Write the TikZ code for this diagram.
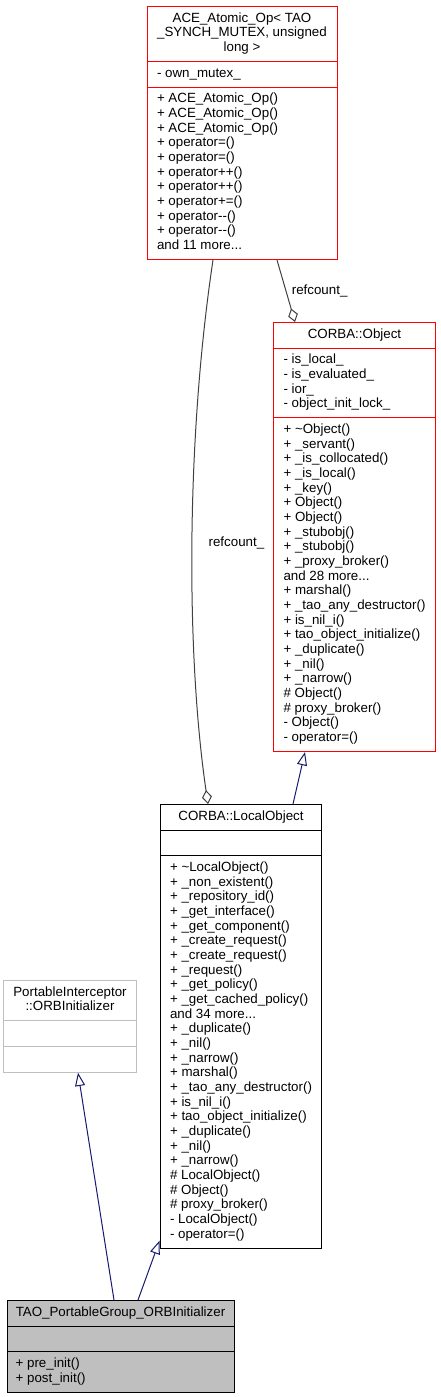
\documentclass[tikz,border=0pt]{standalone}
\usepackage{fontspec}
\setmainfont{Liberation Sans}
\usetikzlibrary{positioning,arrows.meta,calc,shapes.multipart}
\definecolor{edgeblue}{HTML}{191970}
\definecolor{edgegray}{HTML}{404040}
\definecolor{boxgray}{HTML}{BFBFBF}
\newcommand{\mtitle}[1]{\begin{tabular}{@{}c@{}}#1\end{tabular}}
\newcommand{\mlist}[1]{\begin{tabular}{@{}l@{}}#1\end{tabular}}
\tikzset{
  classbox/.style={rectangle split,rectangle split parts=3,draw,
    line width=0.75pt,inner xsep=7.5pt,inner ysep=3.75pt,anchor=north,
    rectangle split part align={center,left,left},
    font=\fontsize{10}{11}\selectfont},
  redbox/.style={classbox,draw=red},
  greybox/.style={classbox,draw=boxgray},
  mainbox/.style={classbox,fill=boxgray,inner xsep=6.5pt},
  inherit/.style={-{Triangle[open,length=10pt,width=7.5pt]},draw=edgeblue,
    line width=0.75pt},
  aggr/.style={-{Diamond[open,length=10.5pt,width=7.5pt]},draw=edgegray,
    line width=0.75pt},
  aggrlbl/.style={font=\fontsize{10}{11}\selectfont,inner sep=1pt},
}
\begin{document}
\begin{tikzpicture}[x=0.75pt,y=-0.75pt]
  \useasboundingbox (0,0) rectangle (440,1397);
  \node[redbox,minimum width=142.5pt] (ace) at (242,6)
    {\mtitle{ACE\_Atomic\_Op< TAO\\\_SYNCH\_MUTEX, unsigned\\long >}
     \nodepart{second}\mlist{- own\_mutex\_}
     \nodepart{third}\mlist{+ ACE\_Atomic\_Op()\\+ ACE\_Atomic\_Op()\\
       + ACE\_Atomic\_Op()\\+ operator=()\\+ operator=()\\+ operator++()\\
       + operator++()\\+ operator+=()\\+ operator-{}-()\\+ operator-{}-()\\
       and 11 more...}};
  \node[redbox,minimum width=119.25pt] (obj) at (354.5,322)
    {\mtitle{CORBA::Object}
     \nodepart{second}\mlist{- is\_local\_\\- is\_evaluated\_\\- ior\_\\
       - object\_init\_lock\_}
     \nodepart{third}\mlist{+ \textasciitilde Object()\\+ \_servant()\\
       + \_is\_collocated()\\+ \_is\_local()\\+ \_key()\\+ Object()\\
       + Object()\\+ \_stubobj()\\+ \_stubobj()\\+ \_proxy\_broker()\\
       and 28 more...\\+ marshal()\\+ \_tao\_any\_destructor()\\
       + is\_nil\_i()\\+ tao\_object\_initialize()\\+ \_duplicate()\\
       + \_nil()\\+ \_narrow()\\\# Object()\\\# proxy\_broker()\\
       - Object()\\- operator=()}};
  \node[classbox,minimum width=120pt] (lo) at (241,804)
    {\mtitle{CORBA::LocalObject}
     \nodepart{second}\strut
     \nodepart{third}\mlist{+ \textasciitilde LocalObject()\\
       + \_non\_existent()\\+ \_repository\_id()\\+ \_get\_interface()\\
       + \_get\_component()\\+ \_create\_request()\\+ \_create\_request()\\
       + \_request()\\+ \_get\_policy()\\+ \_get\_cached\_policy()\\
       and 34 more...\\+ \_duplicate()\\+ \_nil()\\+ \_narrow()\\
       + marshal()\\+ \_tao\_any\_destructor()\\+ is\_nil\_i()\\
       + tao\_object\_initialize()\\+ \_duplicate()\\+ \_nil()\\
       + \_narrow()\\\# LocalObject()\\\# Object()\\\# proxy\_broker()\\
       - LocalObject()\\- operator=()}};
  \node[greybox,minimum width=99pt] (orb) at (70,980)
    {\mtitle{PortableInterceptor\\::ORBInitializer}
     \nodepart{second}\strut
     \nodepart{third}\strut};
  \node[mainbox,minimum width=170.25pt] (tao) at (120.5,1300)
    {\mtitle{TAO\_PortableGroup\_ORBInitializer}
     \nodepart{second}\strut
     \nodepart{third}\mlist{+ pre\_init()\\+ post\_init()}};
  % usage edges
  \draw[aggr] ($(ace.south)+(35,0)$) -- ($(obj.north)+(-59.5,0)$)
    node[aggrlbl,pos=0.5,right=3pt] {refcount\_};
  \draw[aggr] ($(ace.south)+(-29,0)$) .. controls +(-27,180) and +(-22,-150)
    .. ($(lo.north)+(-33,0)$) node[aggrlbl,pos=0.5,right=11pt] {refcount\_};
  % inheritance edges
  \draw[inherit] ($(lo.north)+(52,0)$) -- ($(obj.south)+(-49.5,0)$);
  \draw[inherit] ($(tao.north)+(-6.5,0)$) -- ($(orb.south)+(8,0)$);
  \draw[inherit] ($(tao.north)+(17.5,0)$) -- ($(lo.south west)+(0,-8)$);
\end{tikzpicture}
\end{document}
